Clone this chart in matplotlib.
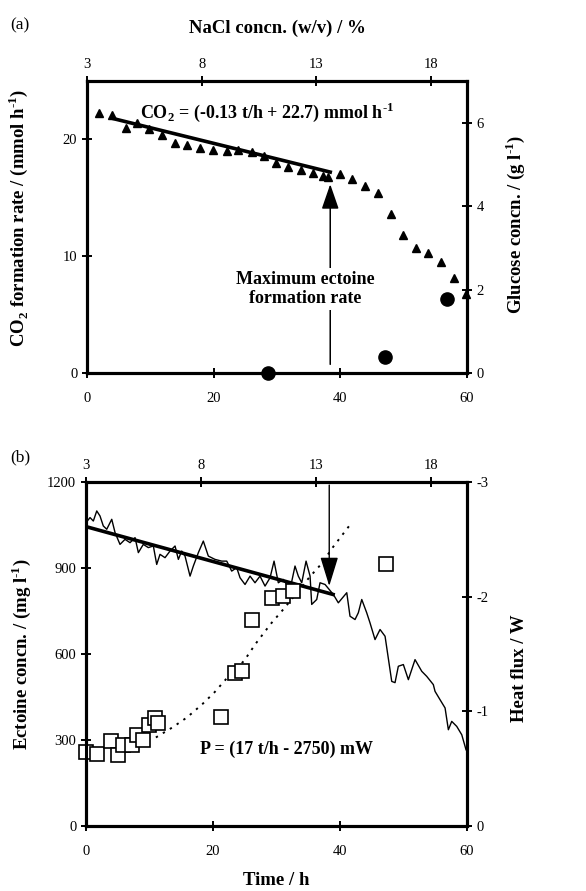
import numpy as np
import matplotlib
matplotlib.use('Agg')
import matplotlib.pyplot as plt

plt.rcParams['font.family'] = ['Liberation Serif', 'DejaVu Serif']
plt.rcParams['mathtext.fontset'] = 'custom'
plt.rcParams['mathtext.rm'] = 'Liberation Serif:bold'
plt.rcParams['mathtext.bf'] = 'Liberation Serif:bold'
plt.rcParams['axes.unicode_minus'] = False

# ---- panel (a) data ----
co2_time = [1.9, 4.0, 6.2, 7.9, 9.8, 11.9, 13.9, 15.8, 17.9, 19.9, 22.1, 23.9, 26.0,
            28.0, 29.9, 31.8, 33.8, 35.7, 37.3, 38.1, 40.0, 41.9, 43.9, 45.9, 48.0,
            49.9, 51.9, 53.9, 55.9, 57.9, 59.9]
co2_rate = [22.3, 22.1, 21.0, 21.4, 20.9, 20.4, 19.7, 19.5, 19.3, 19.1, 19.0, 19.1, 18.9,
            18.6, 18.0, 17.6, 17.4, 17.1, 16.9, 16.8, 17.0, 16.6, 16.0, 15.4, 13.6,
            11.8, 10.7, 10.3, 9.5, 8.1, 6.8]
glc_time = [28.6, 47.1, 56.8]
glc_conc = [0.0, 0.39, 1.78]
co2_fit_t = [4.0, 38.4]
co2_fit = [21.8, 17.2]

# ---- panel (b) data ----
ect_time = [0.0, 1.8, 3.9, 5.1, 5.9, 7.2, 8.0, 9.0, 9.9, 10.9, 11.4, 21.2, 23.4, 24.6,
            26.2, 29.3, 31.0, 32.6, 47.3]
ect_conc = [258, 250, 298, 248, 283, 283, 317, 300, 352, 376, 358, 381, 533, 541,
            718, 797, 802, 820, 916]
ect_curve_t = [11, 13.6, 15.9, 18.3, 20.2, 22.3, 24.9, 26.7, 29.1, 30.9, 33.1, 35.2,
               37.1, 38.9, 41.8]
ect_curve = [309, 344, 379, 425, 466, 519, 577, 636, 706, 752, 811, 869, 916, 974, 1058]

heat_time = [0.0, 0.63, 1.15, 1.69, 2.20, 2.72, 3.26, 4.05, 4.57, 5.35, 6.14, 6.93, 7.72,
             8.24, 9.02, 9.81, 10.60, 11.13, 11.65, 12.44, 13.23, 14.02, 14.54, 15.07,
             15.59, 16.38, 16.90, 17.69, 18.47, 19.26, 20.31, 21.37, 22.16, 22.94, 23.73,
             24.25, 25.04, 25.83, 26.61, 27.40, 28.19, 28.98, 29.61, 30.28, 31.07, 32.13,
             32.91, 33.43, 33.97, 34.65, 35.28, 35.54, 36.33, 36.85, 37.64, 38.94, 39.73,
             41.06, 41.57, 42.36, 42.88, 43.42, 44.20, 44.72, 45.51, 46.30, 47.09, 48.14,
             48.66, 49.18, 49.97, 50.76, 51.81, 52.87, 53.65, 54.69, 54.96, 55.75, 56.54,
             57.06, 57.59, 58.38, 59.17, 59.84]
heat_flux = [-2.648, -2.692, -2.662, -2.750, -2.706, -2.619, -2.590, -2.677, -2.561, -2.458,
             -2.502, -2.473, -2.517, -2.386, -2.458, -2.430, -2.444, -2.283, -2.371, -2.342,
             -2.400, -2.444, -2.327, -2.400, -2.356, -2.181, -2.269, -2.386, -2.487, -2.356,
             -2.327, -2.312, -2.312, -2.225, -2.255, -2.167, -2.108, -2.181, -2.123, -2.181,
             -2.094, -2.167, -2.312, -2.123, -2.152, -2.065, -2.269, -2.181, -2.123, -2.312,
             -2.181, -1.934, -1.977, -2.123, -2.108, -2.021, -1.948, -2.036, -1.831, -1.802,
             -1.861, -1.977, -1.861, -1.773, -1.627, -1.715, -1.656, -1.262, -1.251, -1.394,
             -1.409, -1.277, -1.452, -1.350, -1.306, -1.234, -1.175, -1.102, -1.030, -0.840,
             -0.913, -0.869, -0.796, -0.665]
heat_fit_t = [0.0, 38.9]
heat_fit = [-2.613, -2.021]

nacl_ticks = [3, 8, 13, 18]
nacl_lim = (3, 19.57)

tick_fs = 10.5
lab_fs = 13.5
SPW = 2.2
SUP = r'$^{\text{-}1}$'


def style(ax):
    for s in ax.spines.values():
        s.set_linewidth(SPW)
    ax.tick_params(direction='inout', length=7, width=1.4, labelsize=tick_fs)
    ax.tick_params(axis='x', which='major', pad=10)


fig = plt.figure(figsize=(5.86, 8.91), dpi=100)

# ================= panel (a) =================
ax = fig.add_axes([0.1485, 0.5814, 0.6485, 0.3277])
ax.set_xlim(0, 60)
ax.set_ylim(0, 25)
ax.set_xticks([0, 20, 40, 60])
ax.set_yticks([0, 10, 20])
style(ax)
ax.plot(co2_time, co2_rate, '^', color='black', ms=6.3, zorder=3, clip_on=False)
ax.plot(co2_fit_t, co2_fit, '-', color='black', lw=2.6, zorder=4)
ax.text(8.3, 22.3, r'CO$_2$ = (-0.13 t/h + 22.7) mmol h' + SUP, fontsize=13,
        fontweight='bold', va='center', ha='left')
ax.annotate('', xy=(38.4, 16.4), xytext=(38.4, 0.5),
            arrowprops=dict(arrowstyle='-|>,head_length=1.1,head_width=0.38',
                            color='black', lw=1.1, mutation_scale=14))
ax.text(34.4, 7.2, 'Maximum ectoine\nformation rate', fontsize=13, fontweight='bold',
        ha='center', va='center', linespacing=1.15,
        bbox=dict(facecolor='white', edgecolor='none', pad=2))
ax.set_ylabel(r'CO$_2$ formation rate / (mmol h' + SUP + ')', fontsize=lab_fs,
              fontweight='bold')
ax.yaxis.set_label_coords(-0.15, 0.53)

axr = ax.twinx()
axr.set_ylim(0, 7)
axr.set_yticks([0, 2, 4, 6])
style(axr)
axr.plot(glc_time, glc_conc, 'o', color='black', ms=9.5, clip_on=False, zorder=5)
axr.set_ylabel(r'Glucose concn. / (g l' + SUP + ')', fontsize=lab_fs, fontweight='bold')
axr.yaxis.set_label_coords(1.095, 0.51)

axt = ax.twiny()
axt.set_xlim(*nacl_lim)
axt.set_xticks(nacl_ticks)
style(axt)
axt.tick_params(axis='x', pad=4)
axt.set_xlabel('NaCl concn. (w/v) / %', fontsize=lab_fs, fontweight='bold', labelpad=18)

fig.text(0.017, 0.972, '(a)', fontsize=12.5, va='center')

# ================= panel (b) =================
bx = fig.add_axes([0.1468, 0.0730, 0.6502, 0.3857])
bx.set_xlim(0, 60)
bx.set_ylim(0, 1200)
bx.set_xticks([0, 20, 40, 60])
bx.set_yticks([0, 300, 600, 900, 1200])
style(bx)
bx.plot(ect_curve_t, ect_curve, linestyle=(0, (1.2, 3)), color='black', lw=1.4, zorder=2)
bx.plot(ect_time, ect_conc, 's', mfc='white', mec='black', mew=1.2, ms=9.5, zorder=6,
        clip_on=False)
bx.text(17.9, 269, 'P = (17 t/h - 2750) mW', fontsize=13, fontweight='bold',
        ha='left', va='center')
bx.set_xlabel('Time / h', fontsize=lab_fs, fontweight='bold', labelpad=10)
bx.set_ylabel(r'Ectoine concn. / (mg l' + SUP + ')', fontsize=lab_fs, fontweight='bold')
bx.yaxis.set_label_coords(-0.14, 0.5)

brx = bx.twinx()
brx.set_ylim(0, -3)
brx.set_yticks([-3, -2, -1, 0])
style(brx)
brx.plot(heat_time, heat_flux, '-', color='black', lw=1.0, zorder=3)
brx.plot(heat_fit_t, heat_fit, '-', color='black', lw=2.6, zorder=4)
brx.annotate('', xy=(38.3, -2.07), xytext=(38.3, -3.0),
             arrowprops=dict(arrowstyle='-|>,head_length=1.3,head_width=0.4',
                             color='black', lw=1.0, mutation_scale=14))
brx.set_ylabel('Heat flux / W', fontsize=lab_fs, fontweight='bold')
brx.yaxis.set_label_coords(1.115, 0.46)
bx.set_zorder(brx.get_zorder() + 1)
bx.patch.set_visible(False)

btx = bx.twiny()
btx.set_xlim(*nacl_lim)
btx.set_xticks(nacl_ticks)
style(btx)
btx.tick_params(axis='x', pad=4)

fig.text(0.017, 0.487, '(b)', fontsize=12.5, va='center')

fig.savefig('out.png', dpi=100)
